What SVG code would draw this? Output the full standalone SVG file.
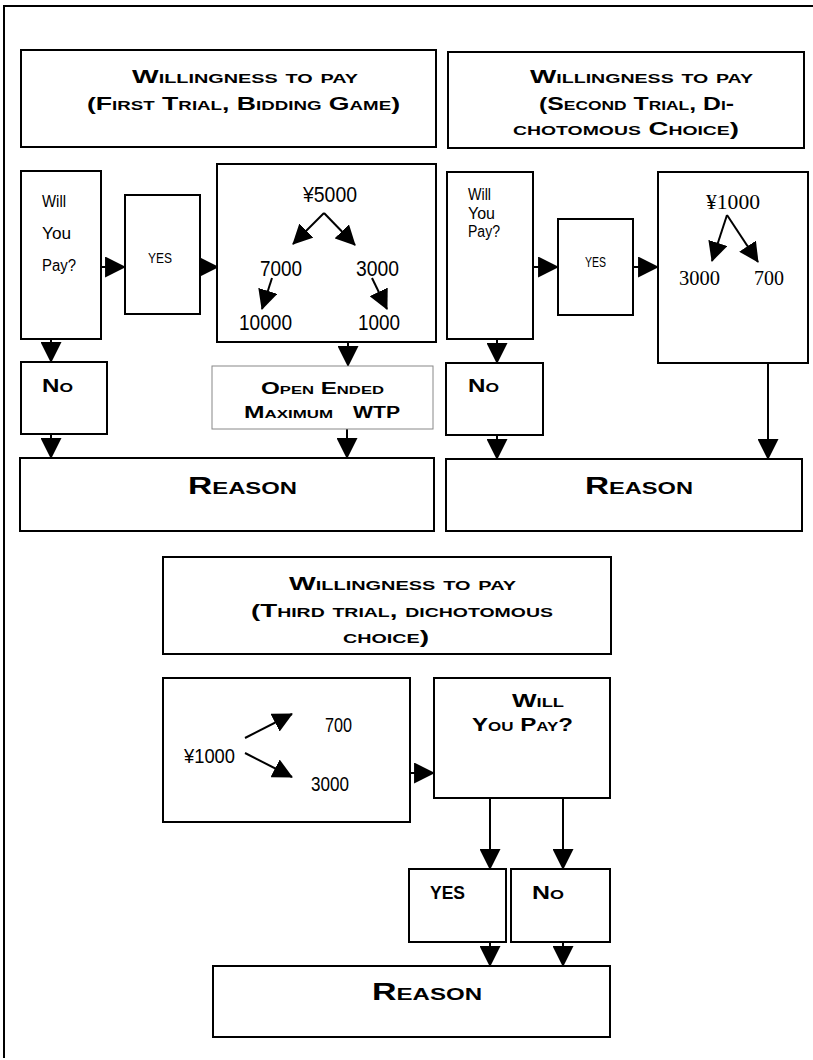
<svg xmlns="http://www.w3.org/2000/svg" width="813" height="1060" viewBox="0 0 813 1060">
  <style>
    .box { fill: #fff; stroke: #000; stroke-width: 2; }
    .thin { fill: #fff; stroke: #888; stroke-width: 1; }
    .sc { font-family: "Liberation Sans", Arial, sans-serif; font-weight: bold; font-variant: small-caps; fill: #000; }
    .sans { font-family: "Liberation Sans", Arial, sans-serif; fill: #000; }
    .serif { font-family: "Liberation Serif", "Times New Roman", serif; fill: #000; }
    .conn { stroke: #000; stroke-width: 2; fill: none; marker-end: url(#ah); }
    .diag { stroke: #000; stroke-width: 2; fill: none; marker-end: url(#ahs); }
  </style>
  <defs>
    <marker id="ah" viewBox="0 0 20 20" markerUnits="userSpaceOnUse" markerWidth="21" markerHeight="21" refX="19" refY="10" orient="auto">
      <path d="M0,0 L20,10 L0,20 Z" fill="#000"/>
    </marker>
    <marker id="ahs" viewBox="0 0 20 20" markerUnits="userSpaceOnUse" markerWidth="20" markerHeight="20" refX="19" refY="10" orient="auto">
      <path d="M0,0 L20,10 L0,20 Z" fill="#000"/>
    </marker>
  </defs>

  <rect width="813" height="1060" fill="#fff"/>
  <!-- page frame -->
  <path d="M4,1058 V6 H813" fill="none" stroke="#000" stroke-width="2"/>

  <!-- connectors -->
  <g id="connectors">
    <line class="conn" x1="101" y1="267" x2="125" y2="267"/>
    <line class="conn" x1="200" y1="267" x2="218" y2="267"/>
    <line class="conn" x1="51" y1="339" x2="51" y2="362"/>
    <line class="conn" x1="51" y1="434" x2="51" y2="458"/>
    <line class="conn" x1="348" y1="342" x2="348" y2="366"/>
    <line class="conn" x1="347" y1="429" x2="347" y2="458"/>

    <line class="conn" x1="533" y1="267" x2="558" y2="267"/>
    <line class="conn" x1="633" y1="267" x2="658" y2="267"/>
    <line class="conn" x1="497" y1="339" x2="497" y2="363"/>
    <line class="conn" x1="497" y1="435" x2="497" y2="459"/>
    <line class="conn" x1="768" y1="363" x2="768" y2="459"/>

    <line class="conn" x1="410" y1="773" x2="434" y2="773"/>
    <line class="conn" x1="490" y1="798" x2="490" y2="869"/>
    <line class="conn" x1="563" y1="798" x2="563" y2="869"/>
    <line class="conn" x1="490" y1="942" x2="490" y2="966"/>
    <line class="conn" x1="563" y1="942" x2="563" y2="966"/>
  </g>

  <!-- first trial -->
  <g id="title1">
    <rect class="box" x="21" y="50" width="415" height="97"/>
    <text class="sc" x="132" y="83" font-size="18.5" textLength="226" lengthAdjust="spacingAndGlyphs">Willingness to pay</text>
    <text class="sc" x="87" y="110" font-size="18.5" textLength="313" lengthAdjust="spacingAndGlyphs">(First Trial, Bidding Game)</text>
  </g>
  <g id="willpay1">
    <rect class="box" x="21" y="171" width="80" height="168"/>
    <text class="sans" x="42" y="207" font-size="16" textLength="24" lengthAdjust="spacingAndGlyphs">Will</text>
    <text class="sans" x="42" y="239" font-size="16" textLength="29" lengthAdjust="spacingAndGlyphs">You</text>
    <text class="sans" x="42" y="271" font-size="16" textLength="34" lengthAdjust="spacingAndGlyphs">Pay?</text>
  </g>
  <g id="yes1">
    <rect class="box" x="125" y="195" width="75" height="119"/>
    <text class="sans" x="148" y="263" font-size="14" textLength="24" lengthAdjust="spacingAndGlyphs">YES</text>
  </g>
  <g id="bid1">
    <rect class="box" x="217" y="164" width="219" height="178"/>
    <text class="sans" x="303" y="202" font-size="22" textLength="54" lengthAdjust="spacingAndGlyphs">¥5000</text>
    <text class="sans" x="260" y="276" font-size="22" textLength="42" lengthAdjust="spacingAndGlyphs">7000</text>
    <text class="sans" x="356" y="276" font-size="22" textLength="43" lengthAdjust="spacingAndGlyphs">3000</text>
    <text class="sans" x="239" y="330" font-size="22" textLength="53" lengthAdjust="spacingAndGlyphs">10000</text>
    <text class="sans" x="358" y="330" font-size="22" textLength="42" lengthAdjust="spacingAndGlyphs">1000</text>
    <line class="diag" x1="324" y1="213" x2="293" y2="244"/>
    <line class="diag" x1="324" y1="213" x2="355" y2="245"/>
    <line class="diag" x1="272" y1="278" x2="262" y2="309"/>
    <line class="diag" x1="372" y1="278" x2="387" y2="309"/>
  </g>
  <g id="openended">
    <rect class="thin" x="212" y="366" width="221" height="63"/>
    <text class="sc" x="261" y="394" font-size="16" textLength="123" lengthAdjust="spacingAndGlyphs">Open Ended</text>
    <text class="sc" x="244" y="418" font-size="16" textLength="89" lengthAdjust="spacingAndGlyphs">Maximum</text>
    <text class="sc" x="353" y="418" font-size="16" textLength="47" lengthAdjust="spacingAndGlyphs">WTP</text>
  </g>
  <g id="no1">
    <rect class="box" x="21" y="362" width="86" height="72"/>
    <text class="sc" x="42" y="392" font-size="18" textLength="31" lengthAdjust="spacingAndGlyphs">No</text>
  </g>
  <g id="reason1">
    <rect class="box" x="20" y="458" width="414" height="73"/>
    <text class="sc" x="188" y="494" font-size="24" textLength="109" lengthAdjust="spacingAndGlyphs">Reason</text>
  </g>

  <!-- second trial -->
  <g id="title2">
    <rect class="box" x="448" y="52" width="356" height="96"/>
    <text class="sc" x="530" y="83" font-size="18.5" textLength="223" lengthAdjust="spacingAndGlyphs">Willingness to pay</text>
    <text class="sc" x="539" y="110" font-size="18.5" textLength="195" lengthAdjust="spacingAndGlyphs">(Second Trial, Di-</text>
    <text class="sc" x="513" y="135" font-size="18.5" textLength="226" lengthAdjust="spacingAndGlyphs">chotomous Choice)</text>
  </g>
  <g id="willpay2">
    <rect class="box" x="447" y="172" width="86" height="167"/>
    <text class="sans" x="468" y="200" font-size="16" textLength="23" lengthAdjust="spacingAndGlyphs">Will</text>
    <text class="sans" x="468" y="219" font-size="16" textLength="27" lengthAdjust="spacingAndGlyphs">You</text>
    <text class="sans" x="468" y="237" font-size="16" textLength="32" lengthAdjust="spacingAndGlyphs">Pay?</text>
  </g>
  <g id="yes2">
    <rect class="box" x="558" y="219" width="75" height="96"/>
    <text class="sans" x="585" y="267" font-size="14" textLength="21" lengthAdjust="spacingAndGlyphs">YES</text>
  </g>
  <g id="bid2">
    <rect class="box" x="658" y="172" width="150" height="191"/>
    <text class="serif" x="706" y="209" font-size="20" textLength="54" lengthAdjust="spacingAndGlyphs">¥1000</text>
    <text class="serif" x="679" y="285" font-size="20" textLength="41" lengthAdjust="spacingAndGlyphs">3000</text>
    <text class="serif" x="754" y="285" font-size="20" textLength="30" lengthAdjust="spacingAndGlyphs">700</text>
    <line class="diag" x1="727" y1="215" x2="712" y2="261"/>
    <line class="diag" x1="727" y1="215" x2="758" y2="262"/>
  </g>
  <g id="no2">
    <rect class="box" x="446" y="363" width="97" height="72"/>
    <text class="sc" x="468" y="392" font-size="18" textLength="31" lengthAdjust="spacingAndGlyphs">No</text>
  </g>
  <g id="reason2">
    <rect class="box" x="446" y="459" width="356" height="72"/>
    <text class="sc" x="585" y="494" font-size="24" textLength="108" lengthAdjust="spacingAndGlyphs">Reason</text>
  </g>

  <!-- third trial -->
  <g id="title3">
    <rect class="box" x="163" y="557" width="448" height="97"/>
    <text class="sc" x="289" y="590" font-size="18.5" textLength="227" lengthAdjust="spacingAndGlyphs">Willingness to pay</text>
    <text class="sc" x="251" y="617" font-size="18.5" textLength="302" lengthAdjust="spacingAndGlyphs">(Third trial, dichotomous</text>
    <text class="sc" x="343" y="643" font-size="18.5" textLength="86" lengthAdjust="spacingAndGlyphs">choice)</text>
  </g>
  <g id="bid3">
    <rect class="box" x="163" y="678" width="247" height="144"/>
    <text class="sans" x="184" y="763" font-size="20" textLength="51" lengthAdjust="spacingAndGlyphs">¥1000</text>
    <text class="sans" x="325" y="732" font-size="20" textLength="27" lengthAdjust="spacingAndGlyphs">700</text>
    <text class="sans" x="311" y="791" font-size="20" textLength="38" lengthAdjust="spacingAndGlyphs">3000</text>
    <line class="diag" x1="245" y1="738" x2="292" y2="714"/>
    <line class="diag" x1="245" y1="753" x2="292" y2="777"/>
  </g>
  <g id="willpay3">
    <rect class="box" x="434" y="678" width="176" height="120"/>
    <text class="sc" x="512" y="707" font-size="18.5" textLength="52" lengthAdjust="spacingAndGlyphs">Will</text>
    <text class="sc" x="472" y="731" font-size="18.5" textLength="101" lengthAdjust="spacingAndGlyphs">You Pay?</text>
  </g>
  <g id="yes3">
    <rect class="box" x="409" y="869" width="97" height="73"/>
    <text class="sc" x="430" y="899" font-size="18" textLength="35" lengthAdjust="spacingAndGlyphs">YES</text>
  </g>
  <g id="no3">
    <rect class="box" x="511" y="869" width="99" height="73"/>
    <text class="sc" x="532" y="899" font-size="18" textLength="32" lengthAdjust="spacingAndGlyphs">No</text>
  </g>
  <g id="reason3">
    <rect class="box" x="213" y="966" width="397" height="71"/>
    <text class="sc" x="372" y="1000" font-size="24" textLength="110" lengthAdjust="spacingAndGlyphs">Reason</text>
  </g>
</svg>
